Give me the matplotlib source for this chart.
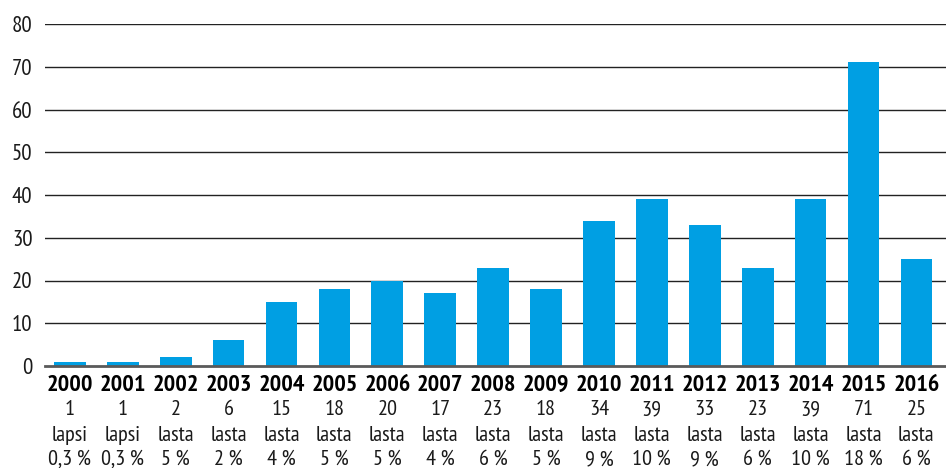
import matplotlib
matplotlib.use("Agg")
import matplotlib.pyplot as plt
import matplotlib.transforms as mtransforms

years = ["2000", "2001", "2002", "2003", "2004", "2005", "2006", "2007", "2008",
         "2009", "2010", "2011", "2012", "2013", "2014", "2015", "2016"]
counts = [1, 1, 2, 6, 15, 18, 20, 17, 23, 18, 34, 39, 33, 23, 39, 71, 25]
units = ["lapsi", "lapsi"] + ["lasta"] * 15
percents = ["0,3\u2009%", "0,3\u2009%", "5\u2009%", "2\u2009%", "4\u2009%", "5\u2009%", "5\u2009%",
            "4\u2009%", "6\u2009%", "5\u2009%", "9\u2009%", "10\u2009%", "9\u2009%", "6\u2009%",
            "10\u2009%", "18\u2009%", "6\u2009%"]
yticks = [0, 10, 20, 30, 40, 50, 60, 70, 80]

FONT = ["PT Sans Narrow", "DejaVu Sans"]
plt.rcParams["font.family"] = FONT

W, H = 946, 468
fig = plt.figure(figsize=(W / 100, H / 100), dpi=100)
ax = fig.add_axes([45 / W, 1 - 366 / H, 1 - 45 / W, (366 - 24) / H])

x = list(range(len(years)))
ax.bar(x, counts, width=0.6, color="#009FE3", zorder=3)

ax.set_xlim(-0.47, 16.56)
ax.set_ylim(0, 80)
ax.set_yticks(yticks)
ax.set_yticklabels([str(v) for v in yticks], fontsize=16.5, color="#1a1a1a")
ax.tick_params(axis="y", length=0, pad=9)
ax.set_xticks([])
for s in ["top", "right", "left"]:
    ax.spines[s].set_visible(False)
ax.spines["bottom"].set_color("#5a5a5a")
ax.spines["bottom"].set_linewidth(2.0)
ax.spines["bottom"].set_zorder(4)
for v in yticks[1:]:
    ax.axhline(v, color="#222222", linewidth=1.0, zorder=1)

tr = mtransforms.blended_transform_factory(ax.transData, fig.transFigure)
for i in x:
    ax.text(i, 1 - 391 / H, years[i], transform=tr, ha="center", va="baseline",
            fontsize=17.5, fontweight="bold", color="black")
    ax.text(i, 1 - 415 / H, str(counts[i]), transform=tr, ha="center", va="baseline",
            fontsize=16, color="#1a1a1a")
    ax.text(i, 1 - 441 / H, units[i], transform=tr, ha="center", va="baseline",
            fontsize=16, color="#1a1a1a")
    ax.text(i, 1 - 465 / H, percents[i], transform=tr, ha="center", va="baseline",
            fontsize=16, color="#1a1a1a")

fig.savefig("out.png", dpi=100)
